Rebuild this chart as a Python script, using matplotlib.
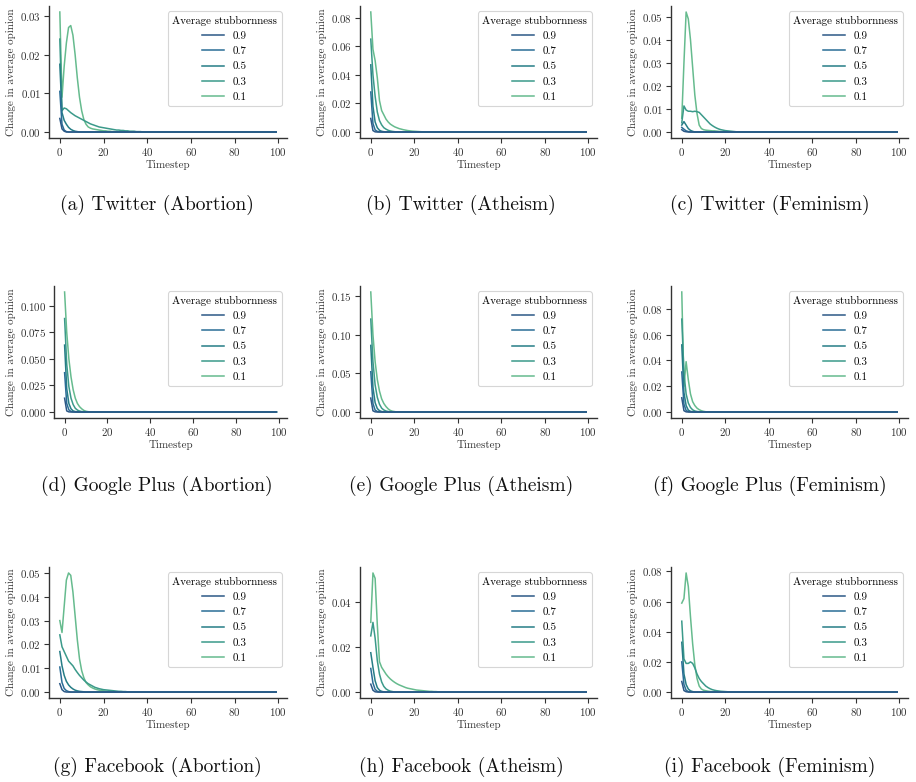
import matplotlib
matplotlib.use("Agg")
import matplotlib.pyplot as plt
import numpy as np

plt.rcParams['font.family'] = ['cmr10', 'DejaVu Serif']
plt.rcParams['mathtext.fontset'] = 'cm'
plt.rcParams['axes.formatter.use_mathtext'] = True

N = 100
timesteps = list(range(N))
stubbornness = ["0.9", "0.7", "0.5", "0.3", "0.1"]
colors = {"0.9": "#2c5886", "0.7": "#2a6d96", "0.5": "#267d86", "0.3": "#3b9a8a", "0.1": "#66bb8e"}

captions = ["(a) Twitter (Abortion)", "(b) Twitter (Atheism)", "(c) Twitter (Feminism)",
            "(d) Google Plus (Abortion)", "(e) Google Plus (Atheism)", "(f) Google Plus (Feminism)",
            "(g) Facebook (Abortion)", "(h) Facebook (Atheism)", "(i) Facebook (Feminism)"]

x_ticks = [0, 20, 40, 60, 80, 100]
y_ticks = [
    [0.00, 0.01, 0.02, 0.03],
    [0.00, 0.02, 0.04, 0.06, 0.08],
    [0.00, 0.01, 0.02, 0.03, 0.04, 0.05],
    [0.000, 0.025, 0.050, 0.075, 0.100],
    [0.00, 0.05, 0.10, 0.15],
    [0.00, 0.02, 0.04, 0.06, 0.08],
    [0.00, 0.01, 0.02, 0.03, 0.04, 0.05],
    [0.00, 0.02, 0.04],
    [0.00, 0.02, 0.04, 0.06, 0.08],
]

# Leading values of each series (the remaining timesteps read as 0)
tw_abortion = {
    "0.9": [0.0035, 0.0008, 0.0002],
    "0.7": [0.0105, 0.002, 0.0005, 0.0001],
    "0.5": [0.0175, 0.005, 0.003, 0.002, 0.0012, 0.0007, 0.0004, 0.0002, 0.0001],
    "0.3": [0.024, 0.0055, 0.0062, 0.006, 0.0055, 0.005, 0.0046, 0.0042, 0.0039, 0.0036,
            0.0033, 0.003, 0.0027, 0.0024, 0.0021, 0.0019, 0.0017, 0.0015, 0.0013, 0.0012,
            0.0011, 0.001, 0.0009, 0.0008, 0.0007, 0.0006, 0.0005, 0.0005, 0.0004, 0.0004,
            0.0003, 0.0003, 0.0002, 0.0002, 0.0002, 0.0001, 0.0001, 0.0001],
    "0.1": [0.031, 0.009, 0.017, 0.023, 0.027, 0.0275, 0.025, 0.02, 0.014, 0.009,
            0.0055, 0.0032, 0.002, 0.0013, 0.001, 0.0008, 0.0007, 0.0006, 0.0005, 0.0004,
            0.0003, 0.0003, 0.0002, 0.0002, 0.0001, 0.0001],
}
tw_atheism = {
    "0.9": [0.0095, 0.001, 0.0001],
    "0.7": [0.028, 0.006, 0.0015, 0.0004, 0.0001],
    "0.5": [0.047, 0.018, 0.007, 0.003, 0.0012, 0.0005, 0.0002],
    "0.3": [0.065, 0.04, 0.025, 0.014, 0.008, 0.005, 0.003, 0.002, 0.0012, 0.0007, 0.0004, 0.0002],
    "0.1": [0.084, 0.058, 0.05, 0.038, 0.022, 0.015, 0.012, 0.009, 0.007, 0.0055,
            0.0045, 0.0036, 0.003, 0.0024, 0.002, 0.0016, 0.0013, 0.001, 0.0008, 0.0006,
            0.0005, 0.0004, 0.0003, 0.0002, 0.0001],
}
tw_feminism = {
    "0.9": [0.001, 0.0003, 0.0001],
    "0.7": [0.002, 0.0012, 0.0005, 0.0002],
    "0.5": [0.003, 0.0045, 0.003, 0.0015, 0.0007, 0.0003],
    "0.3": [0.004, 0.0113, 0.0095, 0.009, 0.009, 0.0088, 0.009, 0.0088, 0.0085, 0.0075,
            0.0065, 0.0055, 0.0045, 0.0035, 0.0028, 0.0022, 0.0017, 0.0013, 0.001, 0.0008,
            0.0006, 0.0005, 0.0004, 0.0003, 0.0002, 0.0001],
    "0.1": [0.006, 0.03, 0.052, 0.049, 0.04, 0.028, 0.016, 0.008, 0.003, 0.0015,
            0.001, 0.0008, 0.0007, 0.0006, 0.0005, 0.0005, 0.0004, 0.0003, 0.0002, 0.0001],
}
gp_abortion = {
    "0.9": [0.013, 0.001, 0.0001],
    "0.7": [0.037, 0.008, 0.002, 0.0005, 0.0001],
    "0.5": [0.063, 0.022, 0.008, 0.003, 0.001, 0.0004, 0.0001],
    "0.3": [0.088, 0.045, 0.024, 0.013, 0.007, 0.0035, 0.0018, 0.0009, 0.0004, 0.0002],
    "0.1": [0.113, 0.075, 0.05, 0.033, 0.021, 0.013, 0.008, 0.005, 0.003, 0.0015, 0.0007, 0.0003, 0.0001],
}
gp_atheism = {
    "0.9": [0.018, 0.0015, 0.0002],
    "0.7": [0.052, 0.011, 0.0025, 0.0006, 0.0001],
    "0.5": [0.086, 0.032, 0.012, 0.0045, 0.0017, 0.0006, 0.0002],
    "0.3": [0.12, 0.065, 0.035, 0.019, 0.01, 0.005, 0.0026, 0.0013, 0.0006, 0.0003],
    "0.1": [0.155, 0.1, 0.065, 0.042, 0.027, 0.017, 0.011, 0.007, 0.004, 0.002, 0.001, 0.0005],
}
gp_feminism = {
    "0.9": [0.011, 0.001, 0.0001],
    "0.7": [0.031, 0.006, 0.0012, 0.0003],
    "0.5": [0.052, 0.015, 0.005, 0.0015, 0.0005, 0.0002],
    "0.3": [0.072, 0.03, 0.014, 0.007, 0.0035, 0.0017, 0.0008, 0.0004, 0.0002],
    "0.1": [0.093, 0.02, 0.039, 0.025, 0.014, 0.008, 0.005, 0.003, 0.0018, 0.001, 0.0005, 0.0002],
}
fb_abortion = {
    "0.9": [0.0035, 0.001, 0.0002],
    "0.7": [0.0105, 0.004, 0.0015, 0.0006, 0.0002],
    "0.5": [0.017, 0.011, 0.007, 0.0045, 0.003, 0.002, 0.0013, 0.0008, 0.0005, 0.0003, 0.0002, 0.0001],
    "0.3": [0.024, 0.019, 0.017, 0.015, 0.013, 0.012, 0.011, 0.0095, 0.0082, 0.007,
            0.006, 0.005, 0.0042, 0.0035, 0.003, 0.0025, 0.002, 0.0017, 0.0014, 0.0012,
            0.001, 0.0009, 0.0008, 0.0007, 0.0006, 0.0005, 0.0004, 0.0003, 0.0003, 0.0002,
            0.0002, 0.0001, 0.0001],
    "0.1": [0.030, 0.025, 0.036, 0.047, 0.05, 0.049, 0.042, 0.032, 0.022, 0.014,
            0.009, 0.006, 0.004, 0.003, 0.0022, 0.0017, 0.0013, 0.001, 0.0008, 0.0006,
            0.0005, 0.0004, 0.0003, 0.0002, 0.0002, 0.0001],
}
fb_atheism = {
    "0.9": [0.0035, 0.0008, 0.0001],
    "0.7": [0.0105, 0.004, 0.0012, 0.0003],
    "0.5": [0.0175, 0.011, 0.005, 0.002, 0.0008, 0.0003, 0.0001],
    "0.3": [0.025, 0.031, 0.024, 0.014, 0.008, 0.0045, 0.0025, 0.0014, 0.0008, 0.0004, 0.0002],
    "0.1": [0.031, 0.053, 0.0506, 0.03, 0.0135, 0.011, 0.0095, 0.008, 0.0068, 0.0058,
            0.005, 0.0043, 0.0037, 0.0032, 0.0028, 0.0024, 0.002, 0.0017, 0.0015, 0.0013,
            0.0011, 0.0009, 0.0008, 0.0007, 0.0006, 0.0005, 0.0004, 0.0003, 0.0003, 0.0002,
            0.0002, 0.0001],
}
fb_feminism = {
    "0.9": [0.007, 0.001, 0.0002],
    "0.7": [0.02, 0.005, 0.0012, 0.0003],
    "0.5": [0.033, 0.012, 0.005, 0.002, 0.0008, 0.0003],
    "0.3": [0.047, 0.022, 0.019, 0.019, 0.02, 0.019, 0.016, 0.012, 0.009, 0.007,
            0.0055, 0.004, 0.003, 0.0022, 0.0016, 0.0012, 0.0009, 0.0007, 0.0005, 0.0004,
            0.0003, 0.0002, 0.0001],
    "0.1": [0.059, 0.062, 0.079, 0.07, 0.05, 0.032, 0.018, 0.009, 0.004, 0.002,
            0.0012, 0.0009, 0.0006, 0.0004, 0.0003, 0.0002, 0.0001],
}
panels = [tw_abortion, tw_atheism, tw_feminism,
          gp_abortion, gp_atheism, gp_feminism,
          fb_abortion, fb_atheism, fb_feminism]

W, H = 916, 782
fig = plt.figure(figsize=(W / 100, H / 100), dpi=100)

col_lr = [(49, 287), (360, 597), (671, 908)]
row_tb = [(6, 138), (286, 418), (567, 698)]
caption_y = [205, 486, 767]
caption_x = [157, 461, 770]

FS = 7.9
spine_col = "#333333"
for idx, data in enumerate(panels):
    r, c = divmod(idx, 3)
    l, rr = col_lr[c]
    if idx == 3:
        l = 54
    t, b = row_tb[r]
    ax = fig.add_axes([l / W, 1 - b / H, (rr - l) / W, (b - t) / H])
    for s in stubbornness[::-1]:
        vals = data[s] + [0.0] * (N - len(data[s]))
        ax.plot(timesteps, vals, color=colors[s], lw=1.1, label=s,
                zorder=3 + stubbornness[::-1].index(s))
    hs, ls = ax.get_legend_handles_labels()
    order = [ls.index(s) for s in stubbornness]
    leg = ax.legend([hs[i] for i in order], [ls[i] for i in order],
                    title="Average stubbornness", loc="upper right",
                    fontsize=FS, title_fontsize=FS, labelspacing=0.5,
                    handlelength=2.0, borderpad=0.4, framealpha=0.8,
                    edgecolor="#cccccc", fancybox=True)
    leg.get_frame().set_linewidth(0.8)
    ax.set_xlabel("Timestep", fontsize=FS, labelpad=2)
    ax.set_ylabel("Change in average opinion", fontsize=FS, labelpad=3)
    ax.set_xticks(x_ticks)
    ax.set_yticks(y_ticks[idx])
    ax.tick_params(labelsize=FS, length=3.5, width=0.8, color=spine_col,
                   labelcolor="#333333", pad=2)
    for sp in ["top", "right"]:
        ax.spines[sp].set_visible(False)
    for sp in ["left", "bottom"]:
        ax.spines[sp].set_linewidth(1.0)
        ax.spines[sp].set_color(spine_col)
    ax.xaxis.label.set_color("#333333")
    ax.yaxis.label.set_color("#333333")
    fig.text(caption_x[c] / W, 1 - caption_y[r] / H, captions[idx],
             fontsize=14, ha="center", va="center", color="#111111")

fig.savefig("out.png", dpi=100)
